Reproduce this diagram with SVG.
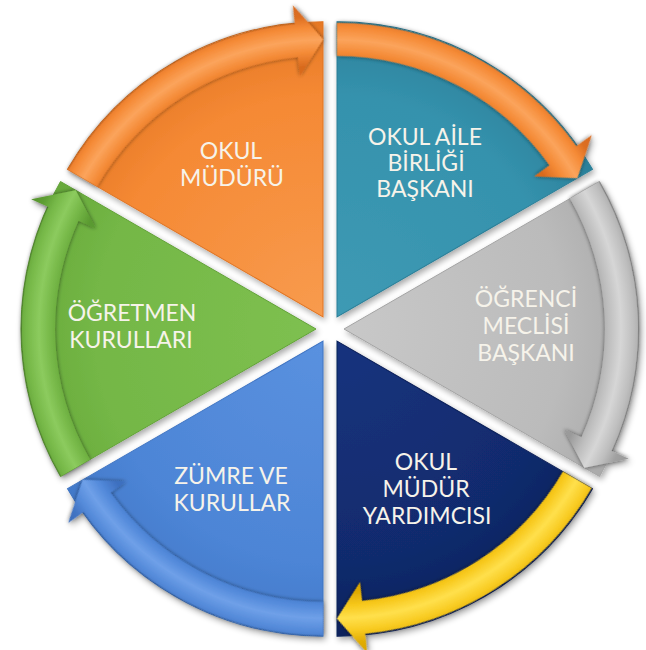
<svg xmlns="http://www.w3.org/2000/svg" width="646" height="650" viewBox="0 0 646 650">
<defs>
<style>
.lbl{font-family:Lato,"Liberation Sans","DejaVu Sans",sans-serif;font-size:23px;fill:#F6F3EA;text-anchor:middle}
</style>
<filter id="sh" x="-20%" y="-20%" width="140%" height="140%">
<feGaussianBlur in="SourceAlpha" stdDeviation="3"/>
<feOffset dx="2" dy="3" result="b"/>
<feComponentTransfer><feFuncA type="linear" slope="0.35"/></feComponentTransfer>
<feMerge><feMergeNode/><feMergeNode in="SourceGraphic"/></feMerge>
</filter>
<filter id="ash" x="-20%" y="-20%" width="140%" height="140%">
<feGaussianBlur in="SourceAlpha" stdDeviation="2"/>
<feComponentTransfer><feFuncA type="linear" slope="0.55"/></feComponentTransfer>
<feMerge><feMergeNode/><feMergeNode in="SourceGraphic"/></feMerge>
</filter>
<radialGradient id="wOr" gradientUnits="userSpaceOnUse" cx="0" cy="0" r="295"><stop offset="0" stop-color="#F89B4E"/><stop offset="0.75" stop-color="#F58934"/><stop offset="1" stop-color="#E57824"/></radialGradient>
<radialGradient id="wTe" gradientUnits="userSpaceOnUse" cx="0" cy="0" r="295"><stop offset="0" stop-color="#3E9AB4"/><stop offset="0.75" stop-color="#3592AD"/><stop offset="1" stop-color="#2A809A"/></radialGradient>
<radialGradient id="wGr" gradientUnits="userSpaceOnUse" cx="0" cy="0" r="295"><stop offset="0" stop-color="#C8C8C8"/><stop offset="0.75" stop-color="#BBBBBB"/><stop offset="1" stop-color="#AAAAAA"/></radialGradient>
<radialGradient id="wNa" gradientUnits="userSpaceOnUse" cx="0" cy="0" r="295"><stop offset="0" stop-color="#16337E"/><stop offset="0.75" stop-color="#112B6D"/><stop offset="1" stop-color="#0C225C"/></radialGradient>
<radialGradient id="wBl" gradientUnits="userSpaceOnUse" cx="0" cy="0" r="295"><stop offset="0" stop-color="#5A91DF"/><stop offset="0.75" stop-color="#4D85D6"/><stop offset="1" stop-color="#4279C9"/></radialGradient>
<radialGradient id="wGn" gradientUnits="userSpaceOnUse" cx="0" cy="0" r="295"><stop offset="0" stop-color="#7EC050"/><stop offset="0.75" stop-color="#74B746"/><stop offset="1" stop-color="#67A93B"/></radialGradient>
<radialGradient id="aOr" gradientUnits="userSpaceOnUse" cx="0" cy="0" r="313"><stop offset="0" stop-color="#D86A1E"/><stop offset="0.8" stop-color="#D86A1E"/><stop offset="0.845" stop-color="#F48A36"/><stop offset="0.885" stop-color="#FBA45C"/><stop offset="0.925" stop-color="#F58A36"/><stop offset="0.96" stop-color="#DC6E22"/><stop offset="1" stop-color="#D86A1E"/></radialGradient>
<radialGradient id="aGr" gradientUnits="userSpaceOnUse" cx="0" cy="0" r="313"><stop offset="0" stop-color="#969696"/><stop offset="0.8" stop-color="#9A9A9A"/><stop offset="0.845" stop-color="#BDBDBD"/><stop offset="0.885" stop-color="#D6D6D6"/><stop offset="0.925" stop-color="#BEBEBE"/><stop offset="0.96" stop-color="#A0A0A0"/><stop offset="1" stop-color="#999999"/></radialGradient>
<radialGradient id="aYe" gradientUnits="userSpaceOnUse" cx="0" cy="0" r="313"><stop offset="0" stop-color="#D9A300"/><stop offset="0.8" stop-color="#DDA800"/><stop offset="0.845" stop-color="#F7C81C"/><stop offset="0.885" stop-color="#FFE04C"/><stop offset="0.925" stop-color="#F8CB22"/><stop offset="0.96" stop-color="#E2AE06"/><stop offset="1" stop-color="#D9A300"/></radialGradient>
<radialGradient id="aBl" gradientUnits="userSpaceOnUse" cx="0" cy="0" r="313"><stop offset="0" stop-color="#3A6BBA"/><stop offset="0.8" stop-color="#3E70C0"/><stop offset="0.845" stop-color="#5289DA"/><stop offset="0.885" stop-color="#6FA0E8"/><stop offset="0.925" stop-color="#558BDA"/><stop offset="0.96" stop-color="#4274C4"/><stop offset="1" stop-color="#3A6BBA"/></radialGradient>
<radialGradient id="aGn" gradientUnits="userSpaceOnUse" cx="0" cy="0" r="313"><stop offset="0" stop-color="#55922C"/><stop offset="0.8" stop-color="#5A9A30"/><stop offset="0.845" stop-color="#74B646"/><stop offset="0.885" stop-color="#8CCB5E"/><stop offset="0.925" stop-color="#76B848"/><stop offset="0.96" stop-color="#5E9E34"/><stop offset="1" stop-color="#55922C"/></radialGradient>
<path id="wedgeShape" d="M0,0 L255.5,-147.5 A295,295 0 0 1 255.5,147.5 Z"/>
<path id="arrowShape" d="M254.6,-147 A294,294 0 0 1 267.5,121.9 L284.8,129.8 L240.3,138.75 L220.2,100.4 L237.5,108.2 A261,261 0 0 0 226,-130.5 Z"/>
</defs>
<rect width="646" height="650" fill="#FFFFFF"/>

<g id="node-okul-muduru">
<g filter="url(#sh)"><g transform="translate(330,329) rotate(240) translate(14,0)">
<use href="#wedgeShape" fill="url(#wOr)" stroke="#E07422"/>
<use href="#arrowShape" fill="url(#aOr)" filter="url(#ash)"/>
</g></g>
<text class="lbl" x="231" y="159">OKUL</text>
<text class="lbl" x="232" y="186">MÜDÜRÜ</text>
</g>

<g id="node-okul-aile-birligi">
<g filter="url(#sh)"><g transform="translate(330,329) rotate(300) translate(14,0)">
<use href="#wedgeShape" fill="url(#wTe)" stroke="#2A7E97"/>
<use href="#arrowShape" fill="url(#aOr)" filter="url(#ash)"/>
</g></g>
<text class="lbl" x="425" y="145">OKUL AİLE</text>
<text class="lbl" x="426" y="171">BİRLİĞİ</text>
<text class="lbl" x="425" y="197">BAŞKANI</text>
</g>

<g id="node-ogrenci-meclisi">
<g filter="url(#sh)"><g transform="translate(330,329) rotate(0) translate(14,0)">
<use href="#wedgeShape" fill="url(#wGr)" stroke="#A4A4A4"/>
<use href="#arrowShape" fill="url(#aGr)" filter="url(#ash)"/>
</g></g>
<text class="lbl" x="526" y="307">ÖĞRENCİ</text>
<text class="lbl" x="526" y="334">MECLİSİ</text>
<text class="lbl" x="526" y="361">BAŞKANI</text>
</g>

<g id="node-mudur-yardimcisi">
<g filter="url(#sh)"><g transform="translate(330,329) rotate(60) translate(14,0)">
<use href="#wedgeShape" fill="url(#wNa)" stroke="#0B2058"/>
<use href="#arrowShape" fill="url(#aYe)" filter="url(#ash)"/>
</g></g>
<text class="lbl" x="426" y="470">OKUL</text>
<text class="lbl" x="426" y="497">MÜDÜR</text>
<text class="lbl" x="427" y="524">YARDIMCISI</text>
</g>

<g id="node-zumre">
<g filter="url(#sh)"><g transform="translate(330,329) rotate(120) translate(14,0)">
<use href="#wedgeShape" fill="url(#wBl)" stroke="#3F74C2"/>
<use href="#arrowShape" fill="url(#aBl)" filter="url(#ash)"/>
</g></g>
<text class="lbl" x="231" y="484">ZÜMRE VE</text>
<text class="lbl" x="232" y="511">KURULLAR</text>
</g>

<g id="node-ogretmen-kurullari">
<g filter="url(#sh)"><g transform="translate(330,329) rotate(180) translate(14,0)">
<use href="#wedgeShape" fill="url(#wGn)" stroke="#62A238"/>
<use href="#arrowShape" fill="url(#aGn)" filter="url(#ash)"/>
</g></g>
<text class="lbl" x="132" y="321">ÖĞRETMEN</text>
<text class="lbl" x="131" y="348">KURULLARI</text>
</g>

<g id="connectors"></g>
</svg>
